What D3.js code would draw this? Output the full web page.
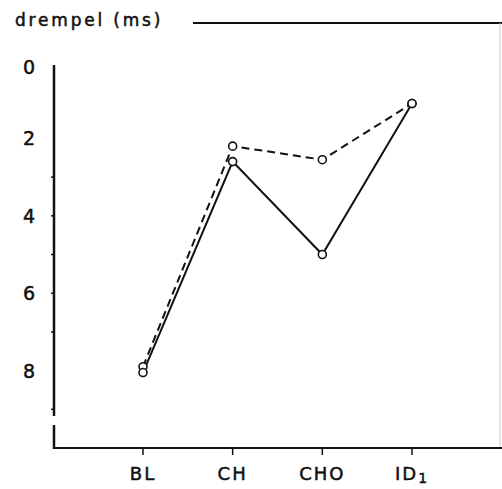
<!DOCTYPE html>
<html>
<head>
<meta charset="utf-8">
<script src="https://cdn.jsdelivr.net/npm/d3@7"></script>
<style>
  html, body { margin: 0; padding: 0; background: #fff; }
  text { font-family: "DejaVu Sans", sans-serif; fill: #111; stroke: #111; stroke-width: 0.5; }
</style>
</head>
<body>
<svg id="chart" width="502" height="489"></svg>
<script>
const categories = ["BL", "CH", "CHO", "ID"];
const solidSeries = [8.05, 2.6, 5.0, 1.1];
const dashedSeries = [7.9, 2.2, 2.55, 1.1];
const yTickLabels = [0, 2, 4, 6, 8];
const yMinorTicks = [3, 4, 5, 6, 7, 9];
const titleText = "drempel (ms)";

const svg = d3.select("#chart");
const x = d3.scalePoint().domain(categories).range([143, 412]);
const y = d3.scaleLinear().domain([0, 10]).range([61, 448]);

// title and top rule
svg.append("text").attr("x", 15).attr("y", 26)
  .attr("font-size", 17).attr("letter-spacing", 2.8).text(titleText);
svg.append("line").attr("x1", 193).attr("x2", 502).attr("y1", 23).attr("y2", 23)
  .attr("stroke", "#111").attr("stroke-width", 2);
// faint right border
svg.append("line").attr("x1", 500).attr("x2", 500).attr("y1", 23).attr("y2", 448)
  .attr("stroke", "#ccc").attr("stroke-width", 1);

// y axis (broken near bottom)
svg.append("line").attr("x1", 54).attr("x2", 54).attr("y1", 65).attr("y2", 416)
  .attr("stroke", "#111").attr("stroke-width", 2.5);
svg.append("line").attr("x1", 54).attr("x2", 54).attr("y1", 425).attr("y2", 449)
  .attr("stroke", "#111").attr("stroke-width", 2.5);
svg.selectAll(".ytick").data(yMinorTicks).enter().append("line")
  .attr("x1", 51).attr("x2", 54).attr("y1", d => y(d)).attr("y2", d => y(d))
  .attr("stroke", "#111").attr("stroke-width", 1.5);
svg.selectAll(".ylab").data(yTickLabels).enter().append("text")
  .attr("x", 29).attr("y", d => y(d) + (d === 0 ? 6 : 0))
  .attr("text-anchor", "middle").attr("dominant-baseline", "central")
  .attr("font-size", 19).text(d => d);

// x axis
svg.append("line").attr("x1", 54).attr("x2", 502).attr("y1", 448).attr("y2", 448)
  .attr("stroke", "#111").attr("stroke-width", 2);
svg.selectAll(".xtick").data(categories).enter().append("line")
  .attr("x1", d => x(d)).attr("x2", d => x(d)).attr("y1", 448).attr("y2", 455)
  .attr("stroke", "#111").attr("stroke-width", 1.5);
const xl = svg.selectAll(".xlab").data(categories).enter().append("text")
  .attr("x", d => x(d)).attr("y", 480)
  .attr("text-anchor", "middle").attr("font-size", 18).attr("letter-spacing", 2);
xl.append("tspan").text(d => d);
xl.filter(d => d === "ID").append("tspan").attr("dy", 3).attr("font-size", 14).text("1");

const line = d3.line().x((d, i) => x(categories[i])).y(d => y(d));

svg.append("path").datum(dashedSeries).attr("d", line)
  .attr("fill", "none").attr("stroke", "#111").attr("stroke-width", 2)
  .attr("stroke-dasharray", "8,5");
svg.append("path").datum(solidSeries).attr("d", line)
  .attr("fill", "none").attr("stroke", "#111").attr("stroke-width", 2);

[dashedSeries, solidSeries].forEach(s => {
  svg.append("g").selectAll("circle").data(s).enter().append("circle")
    .attr("cx", (d, i) => x(categories[i])).attr("cy", d => y(d)).attr("r", 4)
    .attr("fill", "#fff").attr("stroke", "#111").attr("stroke-width", 1.6);
});
</script>
</body>
</html>
